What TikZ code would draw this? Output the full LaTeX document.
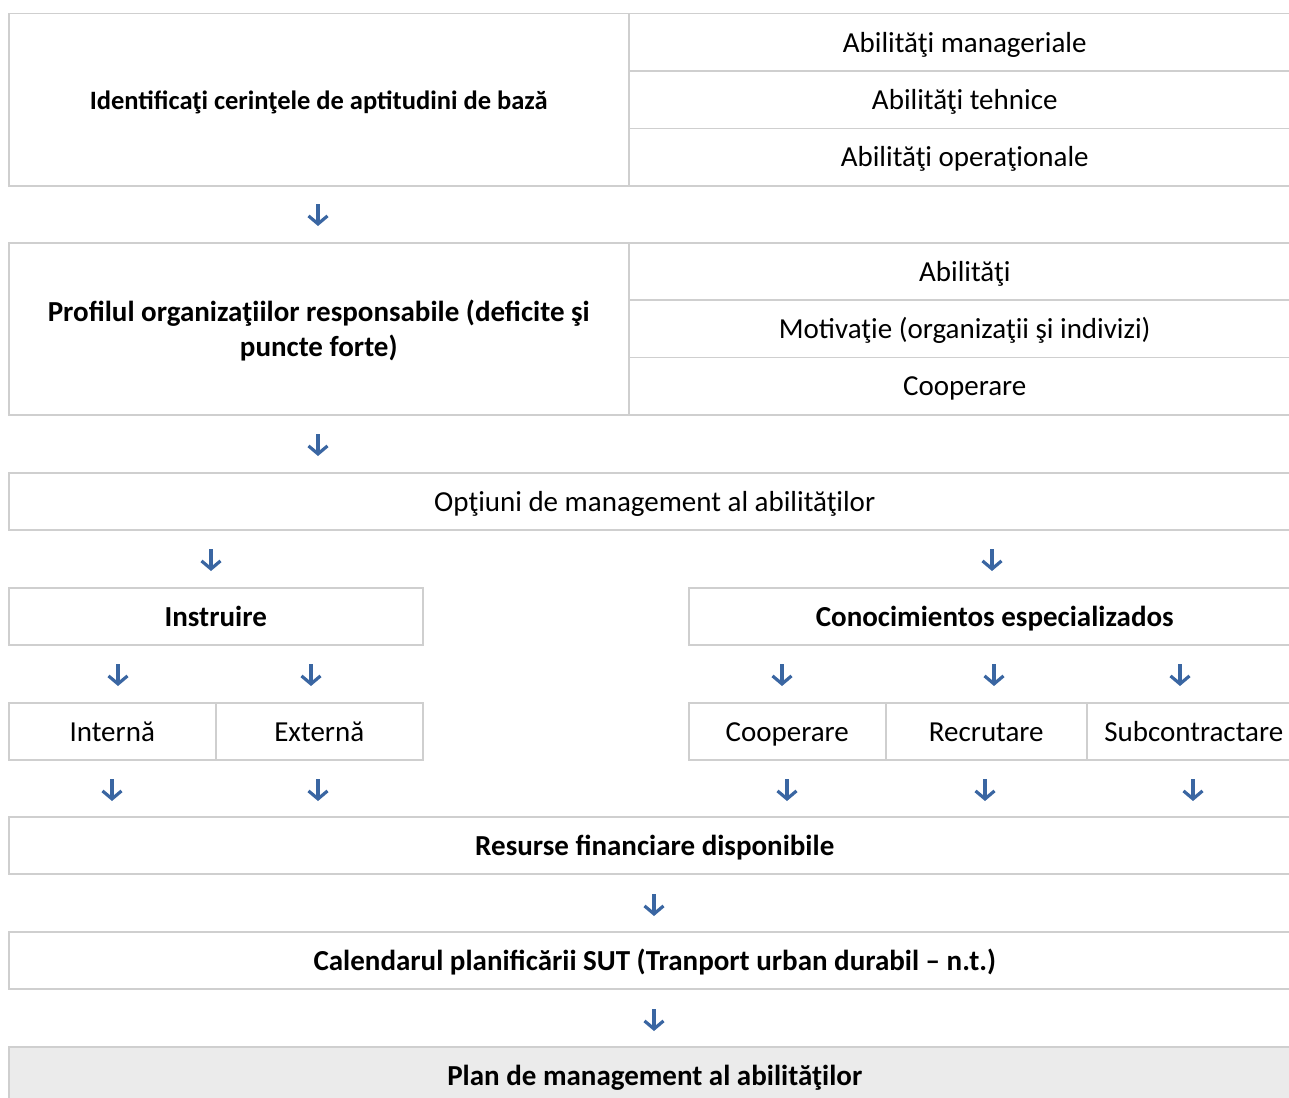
\documentclass[tikz,border=0pt]{standalone}
\usepackage{fontspec}
\setmainfont{Carlito}
\usetikzlibrary{arrows.meta}
\definecolor{cellline}{HTML}{CFCFCF}
\definecolor{arrowblue}{HTML}{3A66A2}
\definecolor{lastfill}{HTML}{EBEBEB}
\begin{document}
\begin{tikzpicture}[x=1pt,y=-1pt,
  cellbox/.style={draw=cellline,line width=1.5pt,rectangle,inner sep=0pt,anchor=north west,align=center},
  cell/.style={cellbox,text height=21pt,text depth=1.5pt,font=\fontsize{29}{35}\selectfont},
  bcell/.style={cell,font=\fontsize{29}{35}\selectfont\bfseries},
  arr/.style={draw=arrowblue,line width=3.2pt,-{Straight Barb[length=8pt,width=19pt,line width=3.2pt]}}]
\useasboundingbox (0,0) rectangle (1289,1097);
\clip (0,0) rectangle (1289,1097);
% row 1
\node[bcell,minimum width=620pt,minimum height=172pt,font=\fontsize{26.5}{32}\selectfont\bfseries] (r1) at (8,13) {Identificaţi cerinţele de aptitudini de bază};
\node[cell,minimum width=672pt,minimum height=57.33pt] (r1a) at (628,13) {Abilităţi manageriale};
\node[cell,minimum width=672pt,minimum height=57.33pt] (r1b) at (628,70.33) {Abilităţi tehnice};
\node[cell,minimum width=672pt,minimum height=57.33pt] (r1c) at (628,127.67) {Abilităţi operaţionale};
% row 2
\node[cellbox,minimum width=620pt,minimum height=172pt] (r2) at (8,242) {};
\node[align=center,inner sep=0pt,font=\fontsize{29}{35}\selectfont\bfseries] (r2text) at ([yshift=-2pt]r2.center) {Profilul organizaţiilor responsabile (deficite şi\\puncte forte)};
\node[cell,minimum width=672pt,minimum height=57.33pt] (r2a) at (628,242) {Abilităţi};
\node[cell,minimum width=672pt,minimum height=57.33pt] (r2b) at (628,299.33) {Motivaţie (organizaţii şi indivizi)};
\node[cell,minimum width=672pt,minimum height=57.33pt] (r2c) at (628,356.67) {Cooperare};
% row 3
\node[cell,minimum width=1292pt,minimum height=57pt] (r3) at (8,472) {Opţiuni de management al abilităţilor};
% row 4
\node[bcell,minimum width=414pt,minimum height=57pt] (instr) at (8,587) {Instruire};
\node[bcell,minimum width=612pt,minimum height=57pt] (cono) at (688,587) {Conocimientos especializados};
% row 5
\node[cell,minimum width=207pt,minimum height=57pt] (int) at (8,702) {Internă};
\node[cell,minimum width=207pt,minimum height=57pt] (ext) at (215,702) {Externă};
\node[cell,minimum width=197pt,minimum height=57pt] (coop) at (688,702) {Cooperare};
\node[cell,minimum width=201pt,minimum height=57pt] (recr) at (885,702) {Recrutare};
\node[cell,minimum width=214pt,minimum height=57pt] (subc) at (1086,702) {Subcontractare};
% row 6
\node[bcell,minimum width=1292pt,minimum height=57pt] (res) at (8,816) {Resurse financiare disponibile};
\node[bcell,minimum width=1292pt,minimum height=57pt] (cal) at (8,931) {Calendarul planificării SUT (Tranport urban durabil – n.t.)};
\node[bcell,minimum width=1292pt,minimum height=58pt,fill=lastfill] (plan) at (8,1046) {Plan de management al abilităţilor};
% arrows
\foreach \n/\x/\y in {a1/318/204, a2/318/434, a3/211/549, a4/992/549,
  a5/118/664, a6/311/664, a7/782/664, a8/994/664, a9/1180/664,
  a10/112/779, a11/318/779, a12/787/779, a13/985/779, a14/1193/779,
  a15/654/894, a16/654/1009}{
  \coordinate (\n t) at (\x,\y);
  \coordinate (\n b) at (\x,\y+22);
  \draw[arr] (\n t) -- (\n b);
}
\end{tikzpicture}
\end{document}
